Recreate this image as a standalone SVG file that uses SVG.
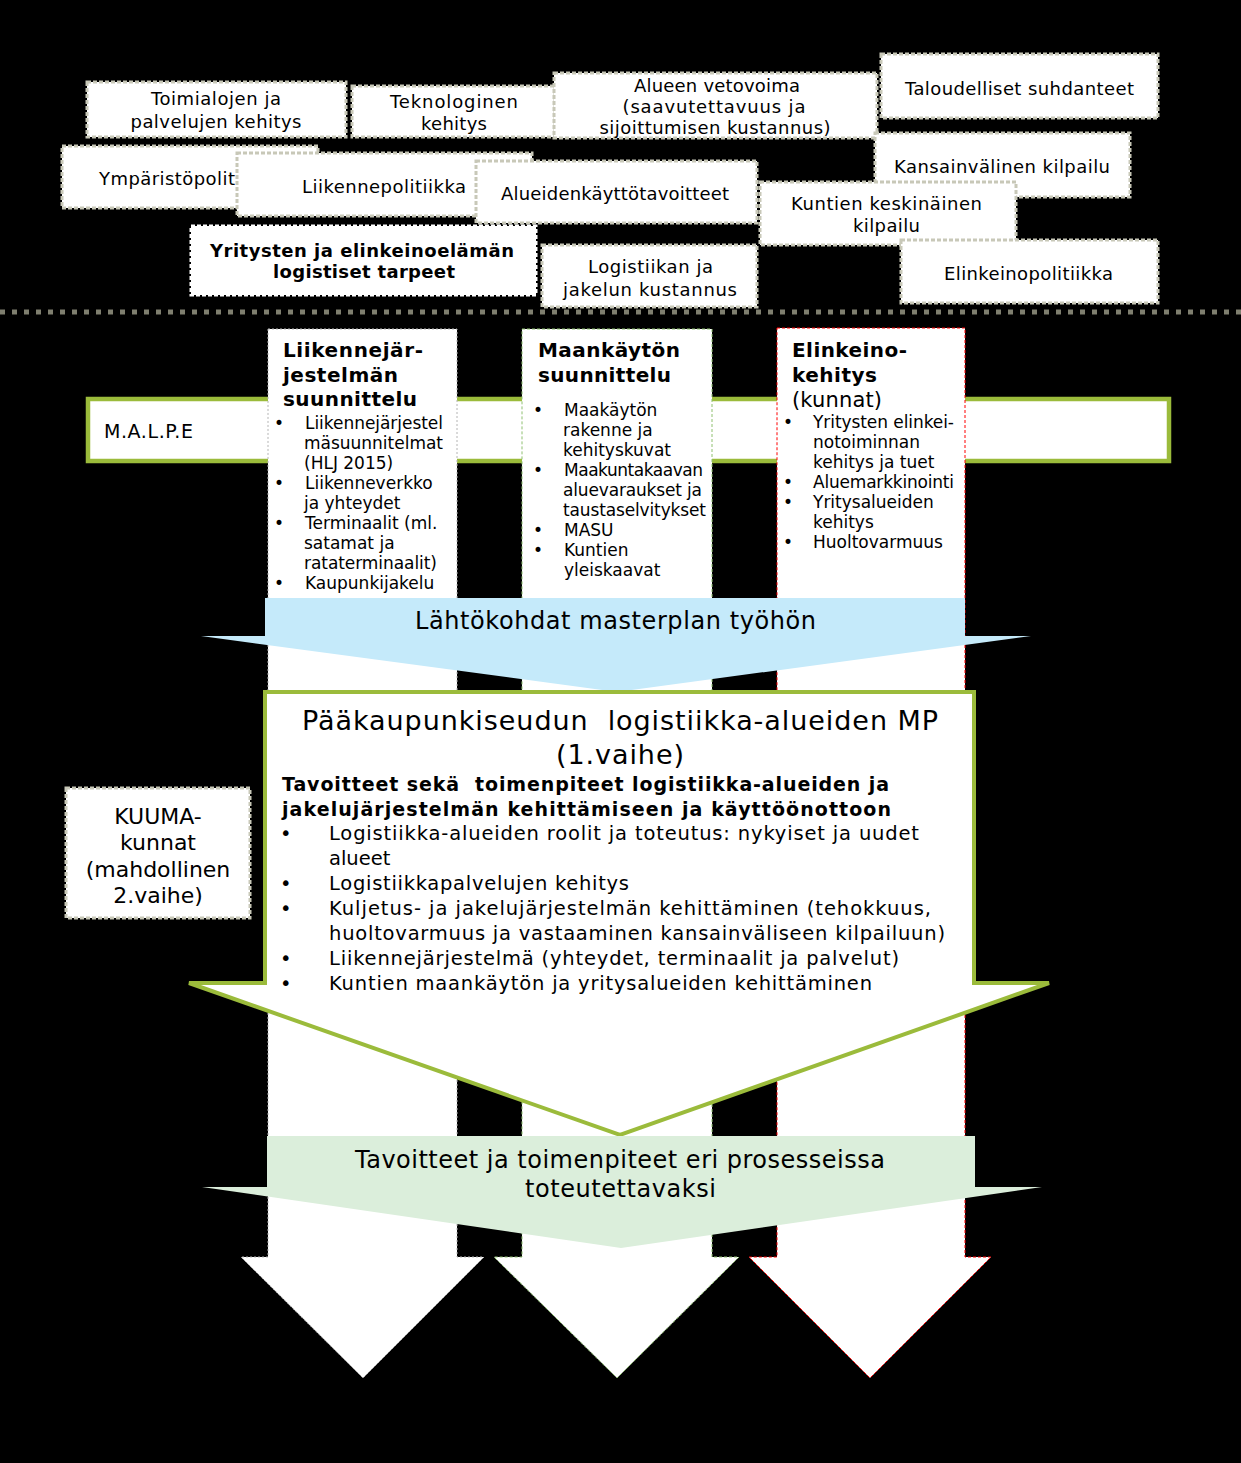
<svg xmlns="http://www.w3.org/2000/svg" width="1241" height="1463" viewBox="0 0 1241 1463">
<style>
.bx{fill:#fff;stroke:#c8c8b8;stroke-width:3;stroke-dasharray:4 2}
.t{font-family:"DejaVu Sans",Verdana,sans-serif;fill:#000}
.tb{font-size:18px;text-anchor:middle}
.b{font-weight:bold}
.cb{font-size:17px}
.hd{font-size:20px;font-weight:bold}
.mb{font-size:19.5px}
.pre{white-space:pre}
</style>
<rect x="0" y="0" width="1241" height="1463" fill="#000"/>

<g id="top-factors" class="t">
  <g id="n-toimialojen"><rect class="bx" x="87" y="82" width="259" height="55"/>
    <text class="t tb" x="216" y="105" textLength="130">Toimialojen ja</text>
    <text class="t tb" x="216" y="128" textLength="171">palvelujen kehitys</text></g>
  <g id="n-teknologinen"><rect class="bx" x="352" y="86" width="203" height="51"/>
    <text class="t tb" x="454" y="108" textLength="128">Teknologinen</text>
    <text class="t tb" x="454" y="130" textLength="66">kehitys</text></g>
  <g id="n-alueen"><rect class="bx" x="554" y="73" width="323" height="65"/>
    <text class="t tb" x="717" y="92" textLength="166">Alueen vetovoima</text>
    <text class="t tb" x="714" y="113" textLength="183">(saavutettavuus ja</text>
    <text class="t tb" x="715" y="134" textLength="231">sijoittumisen kustannus)</text></g>
  <g id="n-taloudelliset"><rect class="bx" x="881" y="54" width="277" height="64"/>
    <text class="t tb" x="1019.5" y="95" textLength="229">Taloudelliset suhdanteet</text></g>
  <g id="n-ymparisto"><rect class="bx" x="62" y="146" width="256" height="62"/>
    <text class="t" x="99" y="185" font-size="18" textLength="136">Ympäristöpolit</text></g>
  <g id="n-liikennepolitiikka"><rect class="bx" x="237" y="153" width="295" height="63"/>
    <text class="t tb" x="384" y="193" textLength="164">Liikennepolitiikka</text></g>
  <g id="n-alueidenkaytto"><rect class="bx" x="476" y="161" width="281" height="62"/>
    <text class="t tb" x="615" y="200" textLength="228">Alueidenkäyttötavoitteet</text></g>
  <g id="n-kansainvalinen"><rect class="bx" x="875" y="133" width="255" height="64"/>
    <text class="t tb" x="1002" y="173" textLength="216">Kansainvälinen kilpailu</text></g>
  <g id="n-kuntien"><rect class="bx" x="760" y="182" width="256" height="63"/>
    <text class="t tb" x="886.5" y="210" textLength="191">Kuntien keskinäinen</text>
    <text class="t tb" x="886.5" y="232" textLength="67">kilpailu</text></g>
  <g id="n-elinkeinopolitiikka"><rect class="bx" x="901" y="240" width="257" height="63"/>
    <text class="t tb" x="1028.5" y="280" textLength="169">Elinkeinopolitiikka</text></g>
  <g id="n-yritysten"><rect x="191" y="226" width="345" height="69" fill="#fff" stroke="#fff" stroke-width="3" stroke-dasharray="4 2"/>
    <text class="t tb b" x="362" y="257" textLength="304">Yritysten ja elinkeinoelämän</text>
    <text class="t tb b" x="364" y="278" textLength="182">logistiset tarpeet</text></g>
  <g id="n-logistiikan"><rect class="bx" x="542" y="245" width="215" height="62"/>
    <text class="t tb" x="650.5" y="273" textLength="125">Logistiikan ja</text>
    <text class="t tb" x="650" y="296" textLength="174">jakelun kustannus</text></g>
</g>

<g id="connectors">
  <line x1="0" y1="312" x2="1241" y2="312" stroke="#7f7f6f" stroke-width="5" stroke-dasharray="5 7"/>
</g>

<g id="n-malpe">
  <rect x="88" y="399" width="1081" height="62" fill="#fff" stroke="#9bbb3b" stroke-width="4.5"/>
  <text class="t" x="104" y="438" font-size="19" textLength="89">M.A.L.P.E</text>
</g>

<g id="n-liikennejarjestelma">
  <path d="M268,329 H457 V1257 H484 L363,1378 L241,1257 H268 Z" fill="#fff" stroke="#b4b4b4" stroke-width="1" stroke-dasharray="2 2"/>
  <text class="t hd" x="283" y="357" textLength="140">Liikennejär-</text>
  <text class="t hd" x="283" y="382" textLength="115">jestelmän</text>
  <text class="t hd" x="283" y="406" textLength="134">suunnittelu</text>
  <g class="t cb">
    <text x="274" y="429">•</text><text x="305" y="429" textLength="138">Liikennejärjestel</text>
    <text x="304" y="449" textLength="139">mäsuunnitelmat</text>
    <text x="304" y="469">(HLJ 2015)</text>
    <text x="274" y="489">•</text><text x="305" y="489">Liikenneverkko</text>
    <text x="304" y="509">ja yhteydet</text>
    <text x="274" y="529">•</text><text x="305" y="529">Terminaalit (ml.</text>
    <text x="304" y="549">satamat ja</text>
    <text x="304" y="569" textLength="133">rataterminaalit)</text>
    <text x="274" y="589">•</text><text x="305" y="589">Kaupunkijakelu</text>
  </g>
</g>

<g id="n-maankaytto">
  <path d="M522,329 H712 V1257 H739 L617,1378 L494,1257 H522 Z" fill="#fff" stroke="#8fc071" stroke-width="1" stroke-dasharray="3 2"/>
  <text class="t hd" x="538" y="357" textLength="142">Maankäytön</text>
  <text class="t hd" x="538" y="382" textLength="133">suunnittelu</text>
  <g class="t cb">
    <text x="533" y="416">•</text><text x="564" y="416">Maakäytön</text>
    <text x="563" y="436">rakenne ja</text>
    <text x="563" y="456">kehityskuvat</text>
    <text x="533" y="476">•</text><text x="564" y="476" textLength="139">Maakuntakaavan</text>
    <text x="563" y="496" textLength="139">aluevaraukset ja</text>
    <text x="563" y="516" textLength="143">taustaselvitykset</text>
    <text x="533" y="536">•</text><text x="564" y="536">MASU</text>
    <text x="533" y="556">•</text><text x="564" y="556">Kuntien</text>
    <text x="564" y="576">yleiskaavat</text>
  </g>
</g>

<g id="n-elinkeinokehitys">
  <path d="M777,328 H965 V1257 H991 L870,1378 L749,1257 H777 Z" fill="#fff" stroke="#ff0000" stroke-width="1" stroke-dasharray="3 2"/>
  <text class="t hd" x="792" y="357" textLength="115">Elinkeino-</text>
  <text class="t hd" x="792" y="382" textLength="85">kehitys</text>
  <text class="t" x="792" y="407" font-size="21" textLength="90">(kunnat)</text>
  <g class="t cb">
    <text x="783" y="428">•</text><text x="813" y="428" textLength="141">Yritysten elinkei-</text>
    <text x="813" y="448">notoiminnan</text>
    <text x="813" y="468">kehitys ja tuet</text>
    <text x="783" y="488">•</text><text x="813" y="488" textLength="141">Aluemarkkinointi</text>
    <text x="783" y="508">•</text><text x="813" y="508">Yritysalueiden</text>
    <text x="813" y="528">kehitys</text>
    <text x="783" y="548">•</text><text x="813" y="548">Huoltovarmuus</text>
  </g>
</g>

<g id="n-kuuma">
  <rect class="bx" x="66" y="788" width="184" height="130"/>
  <g class="t" font-size="22" text-anchor="middle">
    <text x="158" y="824">KUUMA-</text>
    <text x="158" y="850">kunnat</text>
    <text x="158" y="877">(mahdollinen</text>
    <text x="158" y="903">2.vaihe)</text>
  </g>
</g>

<g id="n-lahtokohdat">
  <path d="M265,598 H965 V636 H1031 L617,692 L201,636 H265 Z" fill="#c5eafa"/>
  <text class="t" x="615.5" y="629" font-size="24" text-anchor="middle" textLength="401">Lähtökohdat masterplan työhön</text>
</g>

<g id="n-masterplan">
  <path d="M265,692 H974 V983 H1049 L620,1135 L189,983 H265 Z" fill="#fff" stroke="#9bbb3b" stroke-width="4"/>
  <text class="t pre" x="620" y="730" font-size="27" text-anchor="middle" textLength="636">Pääkaupunkiseudun  logistiikka-alueiden MP</text>
  <text class="t" x="620" y="764" font-size="27" text-anchor="middle" textLength="128">(1.vaihe)</text>
  <text class="t b pre" x="282" y="791" font-size="19" textLength="607">Tavoitteet sekä  toimenpiteet logistiikka-alueiden ja</text>
  <text class="t b" x="282" y="816" font-size="19" textLength="609">jakelujärjestelmän kehittämiseen ja käyttöönottoon</text>
  <g class="t mb">
    <text x="280" y="840">•</text><text x="329" y="840" textLength="590">Logistiikka-alueiden roolit ja toteutus: nykyiset ja uudet</text>
    <text x="329" y="865">alueet</text>
    <text x="280" y="890">•</text><text x="329" y="890" textLength="300">Logistiikkapalvelujen kehitys</text>
    <text x="280" y="915">•</text><text x="329" y="915" textLength="602">Kuljetus- ja jakelujärjestelmän kehittäminen (tehokkuus,</text>
    <text x="329" y="940" textLength="616">huoltovarmuus ja vastaaminen kansainväliseen kilpailuun)</text>
    <text x="280" y="965">•</text><text x="329" y="965" textLength="570">Liikennejärjestelmä (yhteydet, terminaalit ja palvelut)</text>
    <text x="280" y="990">•</text><text x="329" y="990" textLength="543">Kuntien maankäytön ja yritysalueiden kehittäminen</text>
  </g>
</g>

<g id="n-tavoitteet">
  <path d="M267,1136 H975 V1187 H1042 L621,1248 L202,1187 H267 Z" fill="#dbeedb"/>
  <text class="t" x="620" y="1168" font-size="24" text-anchor="middle" textLength="530">Tavoitteet ja toimenpiteet eri prosesseissa</text>
  <text class="t" x="620.5" y="1197" font-size="24" text-anchor="middle" textLength="191">toteutettavaksi</text>
</g>
</svg>
